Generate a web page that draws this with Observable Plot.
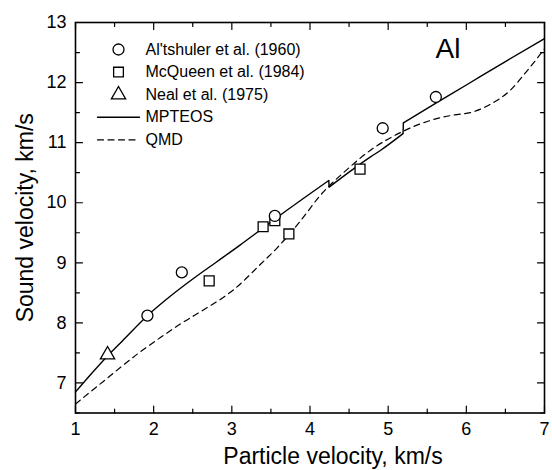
<!DOCTYPE html>
<html>
<head>
<meta charset="utf-8">
<script src="https://cdn.jsdelivr.net/npm/d3@7"></script>
<script src="https://cdn.jsdelivr.net/npm/@observablehq/plot@0.6"></script>
<style>
  html, body { margin: 0; padding: 0; background: #fff; }
  #chart svg { display: block; font-family: Arial, "Liberation Sans", sans-serif; }
</style>
</head>
<body>
<div id="chart"></div>
<script>
// ---------- data ----------
const altshulerX = [1.92, 2.36, 3.55, 4.93, 5.61];
const altshulerY = [8.12, 8.84, 9.78, 11.24, 11.76];

const mcqueenX = [2.71, 3.40, 3.55, 3.73, 4.64];
const mcqueenY = [8.70, 9.60, 9.70, 9.48, 10.56];

const nealX = [1.41];
const nealY = [7.47];

// MPTEOS: three branches separated by small jumps
const mpteosX = [1.0, 1.2, 1.41, 1.6, 1.92, 2.2, 2.5, 2.8, 3.1, 3.4, 3.7, 4.0, 4.24, 4.245, 4.5, 4.77, 4.9, 5.19, 5.195, 5.6, 6.0, 6.5, 7.0];
const mpteosY = [6.85, 7.15, 7.45, 7.70, 8.12, 8.43, 8.73, 9.01, 9.29, 9.58, 9.87, 10.15, 10.37, 10.26, 10.51, 10.76, 10.87, 11.15, 11.33, 11.65, 11.96, 12.35, 12.73];
const mpteosBranch = [1, 1, 1, 1, 1, 1, 1, 1, 1, 1, 1, 1, 1, 2, 2, 2, 2, 2, 3, 3, 3, 3, 3];

const qmdX = [1.0, 1.36, 1.79, 2.09, 2.34, 2.68, 2.94, 3.03, 3.37, 3.58, 3.88, 4.13, 4.48, 4.77, 5.16, 5.54, 5.84, 6.05, 6.31, 6.56, 6.78, 7.0];
const qmdY = [6.65, 7.03, 7.48, 7.76, 7.98, 8.25, 8.47, 8.56, 8.98, 9.25, 9.70, 10.12, 10.56, 10.87, 11.17, 11.37, 11.46, 11.50, 11.64, 11.87, 12.20, 12.56];

const xMajor = [1, 2, 3, 4, 5, 6, 7];
const xMinor = [1.5, 2.5, 3.5, 4.5, 5.5, 6.5];
const yMajor = [7, 8, 9, 10, 11, 12, 13];
const yMinor = [6.5, 7.5, 8.5, 9.5, 10.5, 11.5, 12.5];

const legendLabels = ["Al'tshuler et al. (1960)", "McQueen et al. (1984)", "Neal et al. (1975)", "MPTEOS", "QMD"];
const legendKinds = ["circle", "square", "triangle", "solid", "dashed"];
const xTitle = "Particle velocity, km/s";
const yTitle = "Sound velocity, km/s";
const panelLabel = "Al";

// ---------- build ----------
const zip = (xs, ys) => xs.map((x, i) => ({x, y: ys[i]}));
const altshuler = zip(altshulerX, altshulerY);
const mcqueen = zip(mcqueenX, mcqueenY);
const neal = zip(nealX, nealY);
const mpteos = mpteosX.map((x, i) => ({x, y: mpteosY[i], b: mpteosBranch[i]}));
const qmd = zip(qmdX, qmdY);
// jump connectors: last point of a branch to first point of the next
const jumps = [];
for (let i = 1; i < mpteos.length; i++) {
  if (mpteos[i].b !== mpteos[i - 1].b) jumps.push({x1: mpteos[i - 1].x, y1: mpteos[i - 1].y, x2: mpteos[i].x, y2: mpteos[i].y});
}

const lineShape = {draw(ctx, l) { ctx.moveTo(0, 0); ctx.lineTo(0, -l); }};
const FONT = "Arial, 'Liberation Sans', sans-serif";
const dash = "6,4.5";

function ticks(values, dim, anchor, rotate, length) {
  const o = {frameAnchor: anchor, rotate, length, anchor: "start", shape: lineShape, stroke: "black", strokeWidth: 1.2};
  o[dim] = d => d;
  return Plot.vector(values, o);
}

const marks = [
  Plot.frame({stroke: "black", strokeWidth: 1.6}),
  // ticks inward on four sides
  ticks(xMajor, "x", "bottom", 0, 7), ticks(xMinor, "x", "bottom", 0, 4),
  ticks(xMajor, "x", "top", 180, 7), ticks(xMinor, "x", "top", 180, 4),
  ticks(yMajor, "y", "left", 90, 7), ticks(yMinor, "y", "left", 90, 4),
  ticks(yMajor, "y", "right", 270, 7), ticks(yMinor, "y", "right", 270, 4),
  Plot.axisX(xMajor, {anchor: "bottom", tickSize: 0, tickPadding: 9, fontSize: 18, label: null, tickFormat: d => String(d)}),
  Plot.axisY(yMajor, {anchor: "left", tickSize: 0, tickPadding: 9, fontSize: 18, label: null, tickFormat: d => String(d)}),
  Plot.line(qmd, {x: "x", y: "y", stroke: "black", strokeWidth: 1.2, strokeDasharray: dash, curve: "monotone-x"}),
  Plot.line(mpteos, {x: "x", y: "y", z: "b", stroke: "black", strokeWidth: 1.4, curve: "monotone-x"}),
  Plot.link(jumps, {x1: "x1", y1: "y1", x2: "x2", y2: "y2", stroke: "black", strokeWidth: 1.4}),
  Plot.dot(mcqueen, {x: "x", y: "y", symbol: "square", r: 5.6, stroke: "black", fill: "white", strokeWidth: 1.3}),
  Plot.dot(altshuler, {x: "x", y: "y", symbol: "circle", r: 5.5, stroke: "black", fill: "white", strokeWidth: 1.3}),
  Plot.dot(neal, {x: "x", y: "y", symbol: "triangle", r: 5.3, stroke: "black", fill: "white", strokeWidth: 1.3}),
  Plot.text([panelLabel], {frameAnchor: "top-left", dx: 360, dy: 16, textAnchor: "start", lineAnchor: "top", fontSize: 28, fill: "black"}),
  Plot.text([xTitle], {frameAnchor: "bottom", dx: 23, dy: 51, textAnchor: "middle", lineAnchor: "bottom", fontSize: 23, fill: "black"}),
  Plot.text([yTitle], {frameAnchor: "left", dx: -43, rotate: -90, textAnchor: "middle", lineAnchor: "bottom", fontSize: 23, fill: "black"})
];

// legend
legendLabels.forEach((label, i) => {
  const dy = 27 + i * 22.6;
  const kind = legendKinds[i];
  if (kind === "solid" || kind === "dashed") {
    marks.push(Plot.vector([label], {frameAnchor: "top-left", dx: 22, dy, rotate: 90, length: 42, anchor: "start", shape: lineShape, stroke: "black", strokeWidth: kind === "solid" ? 1.4 : 1.2, strokeDasharray: kind === "dashed" ? dash : null}));
  } else {
    marks.push(Plot.dot([label], {frameAnchor: "top-left", dx: 43, dy, symbol: kind, r: kind === "triangle" ? 5.3 : 5.5, stroke: "black", fill: "white", strokeWidth: 1.3}));
  }
  marks.push(Plot.text([label], {frameAnchor: "top-left", dx: 70, dy, textAnchor: "start", lineAnchor: "middle", fontSize: 16, fill: "black"}));
});

const chart = Plot.plot({
  width: 552,
  height: 470,
  marginLeft: 75,
  marginRight: 8,
  marginTop: 22,
  marginBottom: 57.5,
  style: {fontFamily: FONT, color: "black", background: "white"},
  x: {domain: [1, 7], axis: null},
  y: {domain: [6.5, 13], axis: null},
  marks
});
document.getElementById("chart").appendChild(chart);
</script>
</body>
</html>
